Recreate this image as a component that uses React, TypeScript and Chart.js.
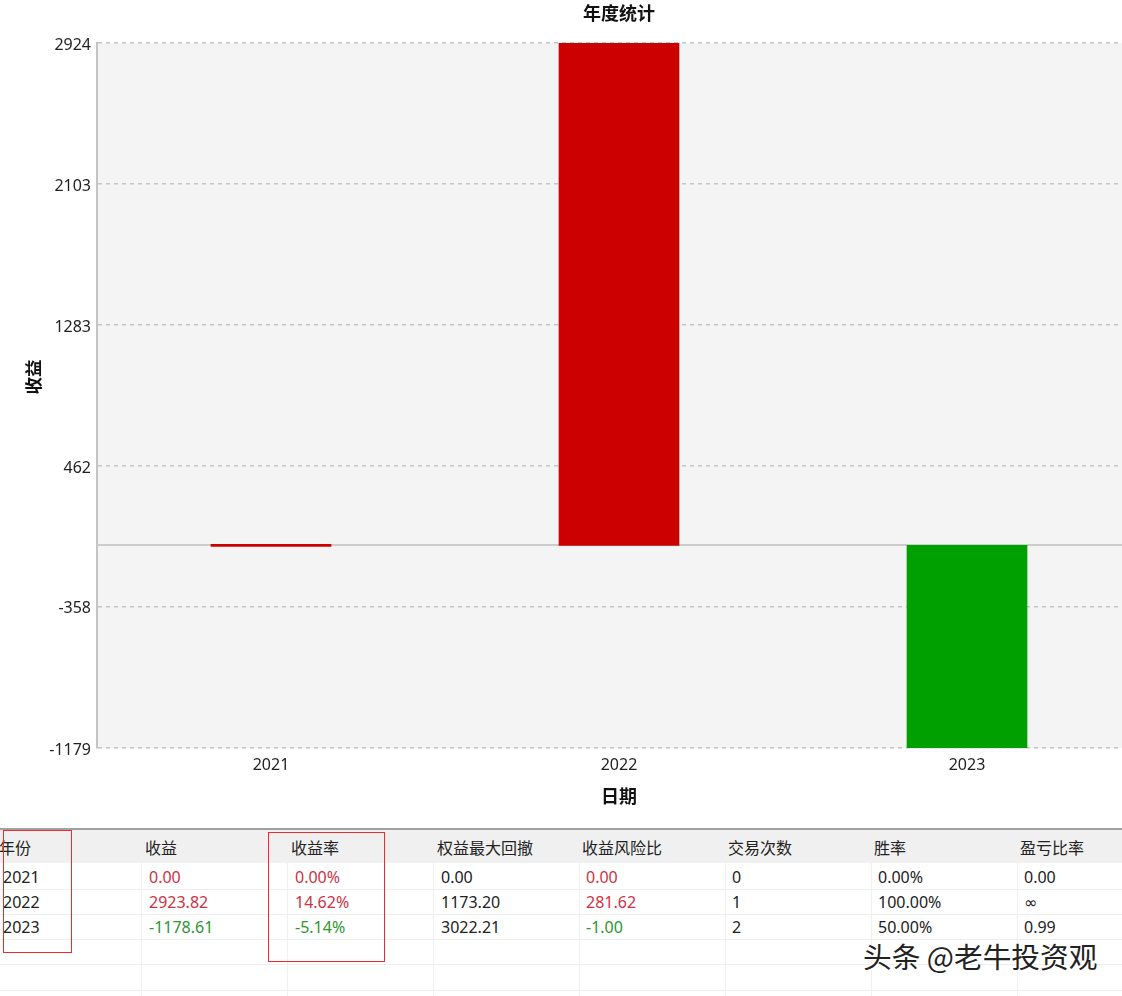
import React, { useEffect, useRef } from "react";
import { Chart, registerables } from "chart.js";

Chart.register(...registerables);

const years = ["2021", "2022", "2023"];
const profit = [0, 2923.82, -1178.61];
const tickValues = [-1179, -358, 462, 1283, 2103, 2924];
const barColors = ["#CC0000", "#CC0000", "#00A000"];

const headers = ["年份", "收益", "收益率", "权益最大回撤", "收益风险比", "交易次数", "胜率", "盈亏比率"];
const rowYear = ["2021", "2022", "2023"];
const rowProfit = ["0.00", "2923.82", "-1178.61"];
const rowRate = ["0.00%", "14.62%", "-5.14%"];
const rowDrawdown = ["0.00", "1173.20", "3022.21"];
const rowRisk = ["0.00", "281.62", "-1.00"];
const rowTrades = ["0", "1", "2"];
const rowWin = ["0.00%", "100.00%", "50.00%"];
const rowPL = ["0.00", "∞", "0.99"];
const columns = [rowYear, rowProfit, rowRate, rowDrawdown, rowRisk, rowTrades, rowWin, rowPL];
const colouredColumns = [1, 2, 4];
const rowTextColors = ["#cc3344", "#cc3344", "#2e962e"];

const CJK = '"Noto Sans CJK SC", sans-serif';
const LATIN = '"Noto Sans", "DejaVu Sans", sans-serif';
const colX = [-1, 145, 291, 437, 582, 728, 874, 1020];
const rowY = [864, 889, 914];
const rowLines = [889, 914, 939, 964, 990];
const colLines = [141, 287, 433, 579, 725, 871, 1017];

const plotDecor = {
  id: "plotDecor",
  beforeDraw(chart: any) {
    const { ctx, chartArea: a } = chart;
    ctx.save();
    ctx.fillStyle = "#F4F4F4";
    ctx.fillRect(a.left, a.top, a.right - a.left, a.bottom - a.top);
    ctx.restore();
  },
  beforeDatasetsDraw(chart: any) {
    const { ctx, chartArea: a, scales } = chart;
    const y = Math.floor(scales.y.getPixelForValue(0));
    ctx.save();
    ctx.strokeStyle = "#CCCCCC";
    ctx.lineWidth = 2;
    ctx.beginPath();
    ctx.moveTo(a.left, y);
    ctx.lineTo(a.right, y);
    ctx.stroke();
    ctx.restore();
  },
  afterDraw(chart: any) {
    const { ctx } = chart;
    ctx.save();
    ctx.translate(33, 377);
    ctx.rotate(-Math.PI / 2);
    ctx.font = `bold 17.5px ${CJK}`;
    ctx.fillStyle = "#111";
    ctx.textAlign = "center";
    ctx.textBaseline = "middle";
    ctx.fillText("收益", 0, 0);
    ctx.restore();
  },
};

export default function App() {
  const ref = useRef<HTMLCanvasElement>(null);
  useEffect(() => {
    const chart = new Chart(ref.current!, {
      type: "bar",
      data: {
        labels: years,
        datasets: [
          {
            data: profit,
            backgroundColor: barColors,
            barThickness: 120,
            minBarLength: 2,
          },
        ],
      },
      options: {
        responsive: false,
        animation: false,
        devicePixelRatio: 1,
        layout: { padding: 0 },
        plugins: {
          legend: { display: false },
          tooltip: { enabled: false },
          title: {
            display: true,
            text: "年度统计",
            fullSize: false,
            color: "#111",
            font: { family: CJK, size: 18, weight: "bold" },
            padding: { top: 2, bottom: 19.4 },
          },
        },
        scales: {
          x: {
            grid: { display: false },
            border: { display: false },
            ticks: { color: "#222", font: { family: LATIN, size: 16 }, padding: 0 },
            title: {
              display: true,
              text: "日期",
              color: "#111",
              font: { family: CJK, size: 18, weight: "bold" },
              padding: { top: 4, bottom: 8 },
            },
            afterFit(s: any) {
              s.height = 67;
            },
          },
          y: {
            min: -1179,
            max: 2924,
            afterBuildTicks(s: any) {
              s.ticks = tickValues.map((value) => ({ value }));
            },
            afterFit(s: any) {
              s.width = 97;
            },
            grid: { color: "#C4C4C4", drawTicks: false, lineWidth: 1.5 },
            border: { color: "#C4C4C4", dash: [4, 4], width: 2 },
            ticks: {
              color: "#222",
              font: { family: LATIN, size: 16 },
              padding: 6,
              labelOffset: 2,
              autoSkip: false,
              callback: (v: any) => String(v),
            },
          },
        },
      },
      plugins: [plotDecor],
    } as any);
    return () => chart.destroy();
  }, []);

  return (
    <div style={{ position: "relative", width: 1122, height: 996, overflow: "hidden", background: "#fff" }}>
      <style>{"body{margin:0;overflow:hidden}"}</style>
      <canvas ref={ref} width={1141} height={815} style={{ position: "absolute", left: 0, top: 0, display: "block" }} />

      <div style={{ position: "absolute", left: 0, top: 828, width: 1122, height: 2, background: "#A0A0A4" }} />
      <div style={{ position: "absolute", left: 0, top: 830, width: 1122, height: 33, background: "#F0F0F0" }} />
      {rowLines.map((y) => (
        <div key={y} style={{ position: "absolute", left: 0, top: y, width: 1122, height: 1, background: "#EEEEEE" }} />
      ))}
      {colLines.map((x) => (
        <div key={x} style={{ position: "absolute", left: x, top: 863, width: 1, height: 133, background: "#F0F0F0" }} />
      ))}
      {headers.map((h, i) => (
        <div
          key={h}
          style={{ position: "absolute", left: colX[i], top: 835, height: 26, lineHeight: "26px", font: `16px ${CJK}`, color: "#222", whiteSpace: "nowrap" }}
        >
          {h}
        </div>
      ))}
      {columns.map((col, c) =>
        col.map((v, r) => (
          <div
            key={`${c}-${r}`}
            style={{
              position: "absolute",
              left: c === 0 ? 3 : colX[c] + 4,
              top: rowY[r] + 1,
              height: 25,
              lineHeight: "25px",
              fontFamily: LATIN,
              fontSize: 16,
              color: colouredColumns.includes(c) ? rowTextColors[r] : "#222",
              whiteSpace: "nowrap",
            }}
          >
            {v}
          </div>
        ))
      )}

      <div style={{ position: "absolute", left: 3, top: 830, width: 67, height: 121, border: "1.5px solid #EE2A2A" }} />
      <div style={{ position: "absolute", left: 268, top: 832, width: 115, height: 128, border: "1.5px solid #EE2A2A" }} />
      <div
        style={{
          position: "absolute",
          left: 863,
          top: 935,
          font: `28.7px ${CJK}`,
          color: "#222",
          whiteSpace: "nowrap",
          textShadow: "1px 1px 0 #fff, -1px -1px 0 #fff",
        }}
      >
        头条 @老牛投资观
      </div>
    </div>
  );
}
